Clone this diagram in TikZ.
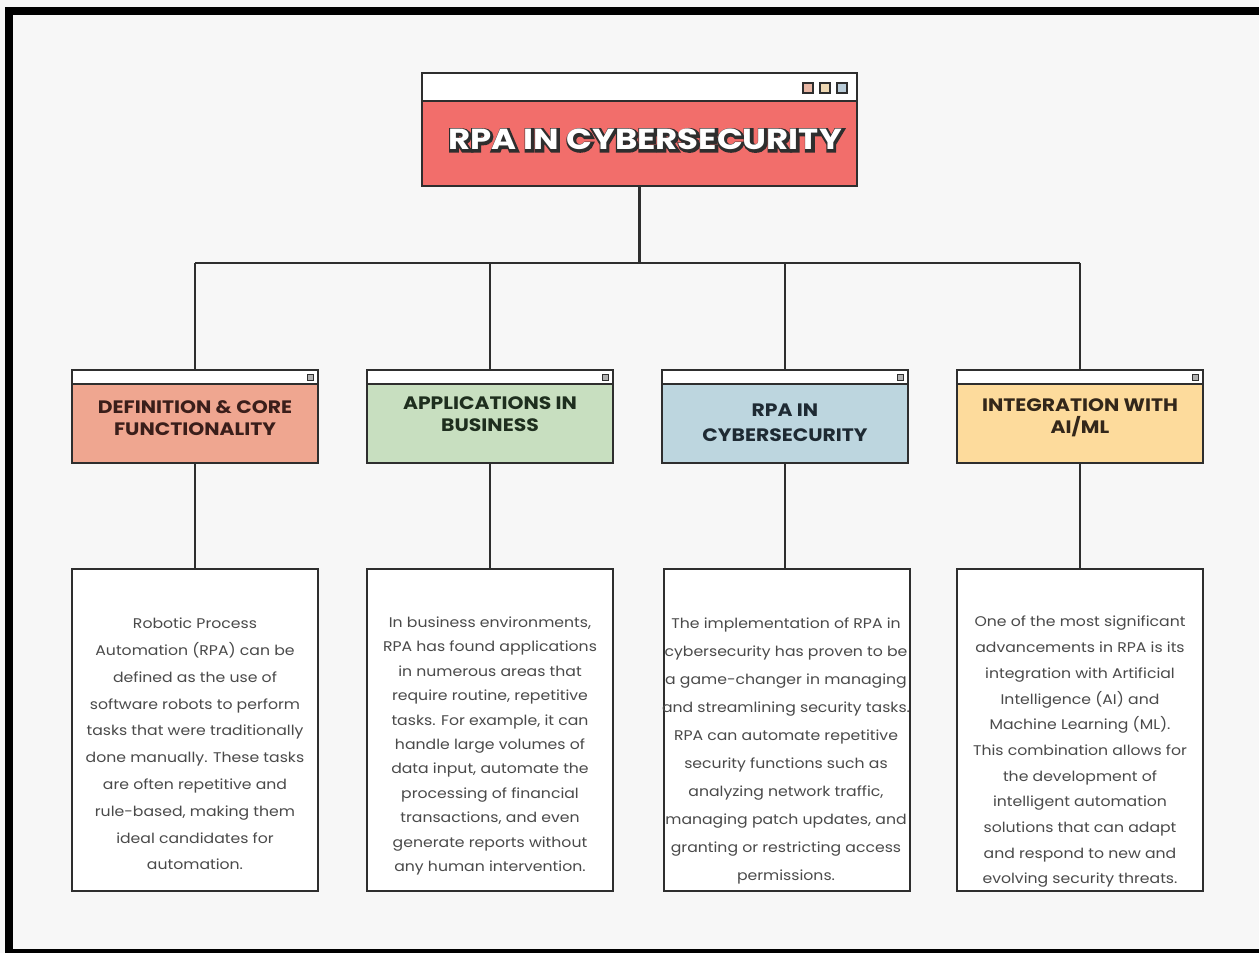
\documentclass[tikz,border=0pt]{standalone}
\usepackage{fontspec}
\setmainfont{Poppins}[FakeStretch=1.12]
\newfontfamily\hfont{Poppins}[FakeStretch=1.13]
\newfontfamily\tfont{Poppins}[FakeStretch=1.17]
\newfontfamily\tofont{Poppins}[FakeStretch=1.17, BoldFeatures={FakeBold=14}]
\usetikzlibrary{calc}
\definecolor{paper}{HTML}{F7F7F7}
\definecolor{lineC}{HTML}{2E2E2E}
\definecolor{titleRed}{HTML}{F26E6B}
\definecolor{cA}{HTML}{EFA690}
\definecolor{cB}{HTML}{C8DFC0}
\definecolor{cC}{HTML}{BDD6DF}
\definecolor{cD}{HTML}{FDDB9C}
\definecolor{tA}{HTML}{3A1E1A}
\definecolor{tB}{HTML}{1E2E1E}
\definecolor{tC}{HTML}{1E2A33}
\definecolor{tD}{HTML}{33271A}
\definecolor{bodyC}{HTML}{4A4A4A}
\definecolor{sqA}{HTML}{E8B6A4}
\definecolor{sqB}{HTML}{EFD9B4}
\definecolor{sqC}{HTML}{B9CCD8}
\newcommand\outlinedtext[1]{%
  \makebox[0pt][l]{\hspace*{0.8pt}\raisebox{-0.8pt}{\textcolor{lineC}{\tofont\bfseries #1}}}%
  \textcolor{white}{\tfont\bfseries #1}}
\tikzset{
  conn/.style={draw=lineC, line width=2.2pt},
  hdrbox/.style={draw=lineC, line width=2pt, rectangle, minimum width=246pt, minimum height=93pt, inner sep=0pt,
    path picture={\fill[white] (path picture bounding box.north west) rectangle ([yshift=-14pt]path picture bounding box.north east);
      \draw[lineC, line width=2pt] ([yshift=-14pt]path picture bounding box.north west) -- ([yshift=-14pt]path picture bounding box.north east);
      \filldraw[fill=gray!60, draw=lineC, line width=0.9pt] ([xshift=-11pt,yshift=-4pt]path picture bounding box.north east) rectangle ([xshift=-5pt,yshift=-10pt]path picture bounding box.north east);}},
  htext/.style={align=center, font=\hfont\bfseries\fontsize{18}{21.5}\selectfont},
  txtbox/.style={draw=lineC, line width=2pt, fill=white, rectangle, minimum width=246pt, minimum height=322pt, inner sep=0pt},
  btext/.style={align=center, text=bodyC, inner sep=0pt},
  sq/.style={draw=lineC, line width=1.4pt, minimum width=10pt, minimum height=10pt, inner sep=0pt, rectangle},
}
\begin{document}
\begin{tikzpicture}[x=1pt,y=-1pt]
\useasboundingbox (0,0) rectangle (1259,953);
\fill[paper] (0,0) rectangle (1259,953);
% outer frame
\fill[black] (5,7) rectangle (1259,15);
\fill[black] (5,7) rectangle (13,953);
\fill[black] (5,949) rectangle (1259,953);

% title box
\node[draw=lineC, line width=2pt, fill=titleRed, rectangle, minimum width=435pt, minimum height=113pt, inner sep=0pt,
  path picture={\fill[white] (path picture bounding box.north west) rectangle ([yshift=-28pt]path picture bounding box.north east);
    \draw[lineC, line width=2pt] ([yshift=-28pt]path picture bounding box.north west) -- ([yshift=-28pt]path picture bounding box.north east);}]
  (title) at (639.5,129.5) {};
\node[sq, fill=sqA] (sq1) at (808,88) {};
\node[sq, fill=sqB] (sq2) at (825,88) {};
\node[sq, fill=sqC] (sq3) at (842,88) {};
\node[font=\fontsize{29}{30}\selectfont, inner sep=0pt] (ttl) at (645,140) {\outlinedtext{RPA IN CYBERSECURITY}};

% header boxes
\node[hdrbox, fill=cA] (h1) at (195,416.5) {};
\node[hdrbox, fill=cB] (h2) at (490,416.5) {};
\node[hdrbox, fill=cC] (h3) at (785,416.5) {};
\node[hdrbox, fill=cD] (h4) at (1080,416.5) {};
\node[htext, text=tA] (h1l) at (195,418) {DEFINITION \& CORE\\FUNCTIONALITY};
\node[htext, text=tB] (h2l) at (490,414) {APPLICATIONS IN\\BUSINESS};
\node[htext, text=tC, font=\hfont\bfseries\fontsize{18}{25}\selectfont] (h3l) at (785,423) {RPA IN\\CYBERSECURITY};
\node[htext, text=tD] (h4l) at (1080,418) {INTEGRATION WITH\\AI/ML};

% text boxes
\node[txtbox] (t1) at (195,730) {};
\node[txtbox] (t2) at (490,730) {};
\node[txtbox] (t3) at (787,730) {};
\node[txtbox] (t4) at (1080,730) {};

% connectors
\coordinate (jn) at (640,263);
\draw[conn] (title.south) -- (title.south |- jn);
\draw[conn] (h1.north |- jn) -- (h4.north |- jn);
\draw[conn] (h1.north |- jn) -- (h1.north);
\draw[conn] (h2.north |- jn) -- (h2.north);
\draw[conn] (h3.north |- jn) -- (h3.north);
\draw[conn] (h4.north |- jn) -- (h4.north);
\draw[conn] (h1.south) -- (t1.north);
\draw[conn] (h2.south) -- (t2.north);
\draw[conn] (h3.south) -- (h3.south |- t3.north);
\draw[conn] (h4.south) -- (t4.north);

% body texts
\node[btext, font=\fontsize{14}{26.8}\selectfont] (b1) at (195,744) {Robotic Process\\Automation (RPA) can be\\defined as the use of\\software robots to perform\\tasks that were traditionally\\done manually. These tasks\\are often repetitive and\\rule-based, making them\\ideal candidates for\\automation.};
\node[btext, font=\fontsize{14}{24.4}\selectfont] (b2) at (490,746) {In business environments,\\RPA has found applications\\in numerous areas that\\require routine, repetitive\\tasks. For example, it can\\handle large volumes of\\data input, automate the\\processing of financial\\transactions, and even\\generate reports without\\any human intervention.};
\node[btext, font=\fontsize{14}{28}\selectfont] (b3) at (786,751) {The implementation of RPA in\\cybersecurity has proven to be\\a game-changer in managing\\and streamlining security tasks.\\RPA can automate repetitive\\security functions such as\\analyzing network traffic,\\managing patch updates, and\\granting or restricting access\\permissions.};
\node[btext, font=\fontsize{14}{25.7}\selectfont] (b4) at (1080,752) {One of the most significant\\advancements in RPA is its\\integration with Artificial\\Intelligence (AI) and\\Machine Learning (ML).\\This combination allows for\\the development of\\intelligent automation\\solutions that can adapt\\and respond to new and\\evolving security threats.};
\end{tikzpicture}
\end{document}
